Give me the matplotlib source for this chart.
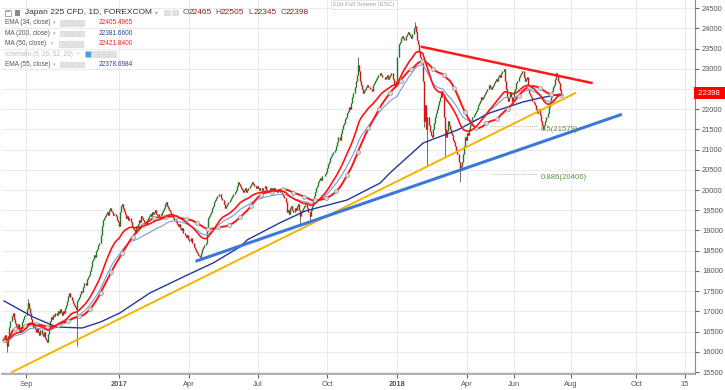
import matplotlib
matplotlib.use('Agg')
import matplotlib.pyplot as plt
import matplotlib.transforms as mtransforms
from matplotlib.patches import Rectangle
import numpy as np
import pandas as pd

plt.rcParams['font.family'] = ['Liberation Sans', 'DejaVu Sans']

# daily closes, Japan 225 CFD, one per bar
closes = [
    16300, 16420, 16250, 16150, 16380, 16620, 16760, 16880, 16950, 16800,
    16720, 16650, 16600, 16680, 16540, 16500, 16620, 16740, 16820, 16880,
    16900, 17050, 17200, 17080, 16950, 16800, 16700, 16620, 16680, 16560,
    16500, 16580, 16480, 16420, 16550, 16450, 16400, 16480, 16350, 16300,
    16250, 16450, 16600, 16750, 16850, 16800, 16920, 16880, 16950, 16900,
    17000, 16950, 17050, 16980, 16900, 17020, 16950, 17080, 17150, 17250,
    17380, 17450, 17350, 17280, 17200, 17150, 17100, 17050, 17250, 17300,
    17350, 17420, 17500, 17480, 17600, 17700, 17650, 17800, 17850, 17900,
    18000, 18100, 18250, 18300, 18400, 18350, 18500, 18550, 18650, 18700,
    18900, 19100, 19250, 19300, 19350, 19400, 19450, 19380, 19500, 19550,
    19480, 19450, 19380, 19420, 19350, 19250, 19200, 19100, 19450, 19600,
    19650, 19550, 19480, 19400, 19300, 19350, 19250, 19300, 19200, 19100,
    19050, 19000, 18950, 19100, 19050, 19150, 19250, 19200, 19350, 19300,
    19250, 19200, 19150, 19250, 19300, 19350, 19400, 19350, 19450, 19400,
    19450, 19500, 19400, 19380, 19350, 19420, 19380, 19450, 19500, 19550,
    19650, 19700, 19600, 19550, 19500, 19450, 19400, 19350, 19300, 19250,
    19200, 19150, 19100, 19150, 19050, 19000, 19050, 18950, 18950, 18900,
    18850, 18880, 18800, 18750, 18820, 18700, 18680, 18600, 18550, 18500,
    18450, 18400, 18380, 18350, 18450, 18550, 18600, 18650, 18700, 19000,
    19300, 19350, 19400, 19450, 19550, 19600, 19700, 19750, 19800, 19850,
    19850, 19900, 19800, 19750, 19750, 19650, 19550, 19600, 19650, 19700,
    19700, 19750, 19800, 19850, 19900, 19950, 20000, 20100, 20200, 20150,
    20100, 20050, 20000, 19950, 20000, 20050, 19950, 20000, 20050, 20100,
    20150, 20200, 20150, 20100, 20100, 20050, 20100, 20050, 20000, 20050,
    20050, 20000, 20050, 20100, 20000, 19950, 19950, 20000, 20050, 20000,
    20050, 20000, 20050, 20000, 20000, 19950, 20000, 19950, 19950, 19900,
    19850, 19800, 19800, 19700, 19450, 19500, 19400, 19550, 19600, 19500,
    19450, 19550, 19500, 19600, 19650, 19500, 19350, 19450, 19500, 19550,
    19600, 19650, 19650, 19550, 19450, 19350, 19500, 19600, 19750, 19850,
    19950, 20050, 20100, 20200, 20250, 20300, 20250, 20350, 20350, 20400,
    20450, 20550, 20650, 20700, 20800, 20850, 20900, 20950, 20950, 21000,
    21100, 21200, 21300, 21250, 21400, 21500, 21600, 21650, 21750, 21800,
    21900, 21950, 22050, 22000, 22150, 22300, 22400, 22550, 22700, 22850,
    23100, 22950, 22700, 22600, 22500, 22400, 22450, 22500, 22550, 22600,
    22550, 22500, 22500, 22450, 22600, 22650, 22700, 22750, 22800, 22850,
    22850, 22900, 22850, 22800, 22800, 22750, 22800, 22850, 22750, 22800,
    22850, 22900, 22900, 22750, 22600, 22650, 22700, 23300, 23600, 23650,
    23750, 23800, 23750, 23700, 23700, 23800, 23850, 23900, 23850, 23800,
    23750, 23850, 24000, 24050, 23900, 23700, 23600, 23450, 23300, 23250,
    23150, 22700, 21700, 22100, 21500, 21800, 21600, 21450, 21350, 21300,
    21500, 21650, 21800, 21900, 22000, 22100, 22200, 22300, 22450, 22300,
    21800, 21500, 21300, 21450, 21700, 21600, 21500, 21400, 21350, 21250,
    21200, 21100, 21000, 20900, 20700, 20500, 20600, 20700, 20900, 21100,
    21300, 21250, 21400, 21350, 21500, 21600, 21700, 21800, 21850, 21900,
    21950, 22000, 22100, 22150, 22200, 22300, 22250, 22300, 22350, 22400,
    22450, 22500, 22600, 22550, 22500, 22550, 22600, 22650, 22700, 22750,
    22700, 22800, 22850, 22800, 22900, 22950, 23000, 22700, 22500, 22300,
    22200, 22300, 22400, 22300, 22200, 22300, 22450, 22500, 22650, 22700,
    22800, 22850, 22900, 22950, 22950, 22800, 22700, 22750, 22800, 22600,
    22400, 22350, 22300, 22200, 22150, 22100, 22000, 21900, 21950, 22000,
    21850, 21700, 21600, 21500, 21600, 21700, 21800, 21900, 22050, 22200,
    22300, 22450, 22550, 22600, 22750, 22900, 22850, 22700, 22650, 22465, 22398,
]
# long wicks that stand out on the chart
wick_lows = {3: 16000, 68: 16150, 276: 19100, 285: 19150, 392: 21550,
             395: 20600, 411: 20800, 425: 20200, 520: 22345}
wick_highs = {22: 17300, 330: 23300, 383: 24150, 520: 22505}

# MA(200) read at a few bars
ma200_bars = [0, 27, 49, 73, 90, 108, 136, 171, 195, 220, 227, 257, 281,
              320, 351, 360, 391, 423, 453, 484, 500, 520]
ma200_vals = [17257, 16861, 16614, 16589, 16737, 16960, 17454, 17900, 18196,
              18592, 18770, 19185, 19482, 19754, 20175, 20422, 21164, 21485,
              21906, 22178, 22276, 22381]

# drawn trend lines (bar, price)
red_bars, red_prices = [390, 548], [23540, 22650]
orange_bars, orange_prices = [7.5, 533], [15500, 22400]
blue_bars, blue_prices = [180, 575], [18250, 21860]

fib_labels = ['0.5(21579)', '0.886(20406)']
fib_prices = [21579, 20406]
fib_bars = [453, 497]

tick_bars = [20.5, 107.3, 172.6, 236.9, 301.3, 366.6, 431.9, 475.7, 528.9, 589.6, 635.3]
tick_labels = ['Sep', '2017', 'Apr', 'Jul', 'Oct', '2018', 'Apr', 'Jun', 'Aug', 'Oct', '15']
price_ticks = list(range(15500, 24501, 500))

last_price = 22398
ohlc_text = [('O', '22465'), ('H', '22505'), ('L', '22345'), ('C', '22398')]
studies = [('EMA (34, close)', '22405.4965', '#ff2020'),
           ('MA (200, close)', '22381.6600', '#2a44a8'),
           ('MA (50, close)', '22421.8400', '#ff2020'),
           ('Ichimoku (9, 26, 52, 26)', '', ''),
           ('EMA (55, close)', '22378.6984', '#2a44a8')]

W, H = 725, 390
fig = plt.figure(figsize=(W / 100, H / 100), dpi=100)
ax = fig.add_axes([2 / W, 16 / H, 693 / W, 374 / H])

c = np.array(closes, dtype=float)
o = np.concatenate([[c[0]], c[:-1]])
hi = np.maximum(o, c)
lo = np.minimum(o, c)
for k, v in wick_lows.items():
    lo[k] = v
for k, v in wick_highs.items():
    hi[k] = v
x = np.arange(len(c))
up = c >= o

ax.vlines(x, lo, hi, color='#333333', linewidth=0.5, zorder=2)
ax.vlines(x[up], o[up], c[up], color='#1e7a22', linewidth=1.0, zorder=2.1)
ax.vlines(x[~up], c[~up], o[~up], color='#d41414', linewidth=1.0, zorder=2.1)

s = pd.Series(c)
ema34 = s.ewm(span=34, adjust=False).mean()
ma50 = s.rolling(50, min_periods=1).mean()
ema55 = s.ewm(span=55, adjust=False).mean()

ax.plot(x, ema55, color='#7d98e0', linewidth=0.8, zorder=3)
ax.plot(ma200_bars, ma200_vals, color='#20399a', linewidth=1.0, zorder=3)
ax.plot(x, ma50, color='#ff1414', linewidth=1.4, zorder=3.1,
        marker='o', markevery=10, markersize=3, markerfacecolor='#d6d6d6',
        markeredgecolor='#9a9a9a', markeredgewidth=0.5)
ax.plot(x, ema34, color='#ff1414', linewidth=1.2, zorder=3.2)

ax.plot(orange_bars, orange_prices, color='#f4b400', linewidth=1.4, zorder=4)
ax.plot(blue_bars, blue_prices, color='#3a78dc', linewidth=2.2, zorder=4)
ax.plot(red_bars, red_prices, color='#ff1a1a', linewidth=1.8, zorder=4)

for lab, p in zip(fib_labels, fib_prices):
    ax.plot(fib_bars, [p, p], color='#8dbb6a', linewidth=0.6,
            linestyle=(0, (1, 1.5)), zorder=4)
    ax.text(fib_bars[1] + 4, p, lab, color='#5f9040', fontsize=5.6,
            ha='left', va='top', zorder=5)

ax.set_xlim(-1.9, 644.6)
ax.set_ylim(15451, 24700)
ax.set_yticks(price_ticks)
# the 22500 label sits under the last-price box
ax.set_yticklabels(['' if p == 22500 else str(p) for p in price_ticks])
ax.set_xticks(tick_bars)
ax.set_xticklabels(tick_labels)
for t in ax.get_xticklabels():
    if t.get_text() in ('2017', '2018'):
        t.set_fontweight('bold')
ax.grid(True, color='#ebebeb', linewidth=0.8, zorder=0)
ax.set_axisbelow(True)
ax.yaxis.tick_right()
ax.tick_params(axis='y', labelsize=5.4, colors='#666666', length=3, pad=2,
               labelcolor='#555555')
ax.tick_params(axis='x', labelsize=5.4, colors='#666666', length=3, pad=2,
               labelcolor='#555555')
for side in ('top', 'left'):
    ax.spines[side].set_visible(False)
ax.spines['right'].set_color('#888888')
ax.spines['bottom'].set_color('#a0a0a0')
ax.spines['bottom'].set_linewidth(1.2)

trans = mtransforms.blended_transform_factory(ax.transAxes, ax.transData)
ax.text(1.002, last_price, ' ' + str(last_price) + ' ', transform=trans,
        fontsize=5.6, color='white', ha='left', va='center', zorder=6,
        clip_on=False,
        bbox=dict(boxstyle='square,pad=0.35', fc='#ff0000', ec='none'))


def px(xp, yp):
    return xp / W, 1 - yp / H


def icon(xp, yp, size=5.5, fc='#e2e2e2'):
    fig.patches.append(Rectangle(px(xp, yp + size / 2), size / W, size / H,
                                 transform=fig.transFigure, fc=fc,
                                 ec='#cfcfcf', lw=0.4))


# header row
fig.patches.append(Rectangle(px(5, 16), 6 / W, 6 / H, transform=fig.transFigure,
                             fc='white', ec='#888888', lw=0.5))
fig.text(*px(8, 12.6), '−', fontsize=5, color='#666666', ha='center', va='center')
fig.patches.append(Rectangle(px(15, 16), 5 / W, 6 / H, transform=fig.transFigure,
                             fc='#8a8a8a', ec='none'))
fig.text(*px(25, 12.6), 'Japan 225 CFD, 1D, FOREXCOM', fontsize=6.0,
         color='#333333', va='center')
fig.text(*px(155, 12.6), '▾', fontsize=4, color='#999999', va='center',
         family=['DejaVu Sans'])
icon(164, 12.6)
icon(172, 12.6)
xo = 183
for letter, val in ohlc_text:
    fig.text(*px(xo, 12.6), letter, fontsize=6.0, color='#555555', va='center')
    fig.text(*px(xo + 5.5, 12.6), val, fontsize=6.0, color='#8b2020', va='center')
    xo += 32.5

rows_y = [23, 33.3, 43.8, 54, 64.3]
for (name, val, col), yp in zip(studies, rows_y):
    tcol = '#bbbbbb' if not val else '#555555'
    fig.text(*px(5, yp), name, fontsize=4.7, color=tcol, va='center')
    if val:
        fig.text(*px(53 if 'MA (50' not in name else 51, yp), '▾', fontsize=3.5,
                 color='#aaaaaa', va='center', family=['DejaVu Sans'])
        base = 60 if 'MA (50' not in name else 59
        for i in range(4):
            icon(base + i * 6.3, yp)
        fig.text(*px(99, yp), val, fontsize=4.7, color=col, va='center')
    else:
        fig.text(*px(77, yp), '▾', fontsize=3.5, color='#cccccc', va='center',
                 family=['DejaVu Sans'])
        icon(85, yp, fc='#3fa1e0')
        for i in range(1, 5):
            icon(85 + i * 6.3, yp)

fig.text(*px(364, 4.5), 'Exit Full Screen (ESC)', fontsize=4.4, color='#a0a0a0',
         ha='center', va='center',
         bbox=dict(boxstyle='square,pad=0.3', fc='white', ec='#dddddd', lw=0.5))

fig.savefig('out.png', dpi=100)
